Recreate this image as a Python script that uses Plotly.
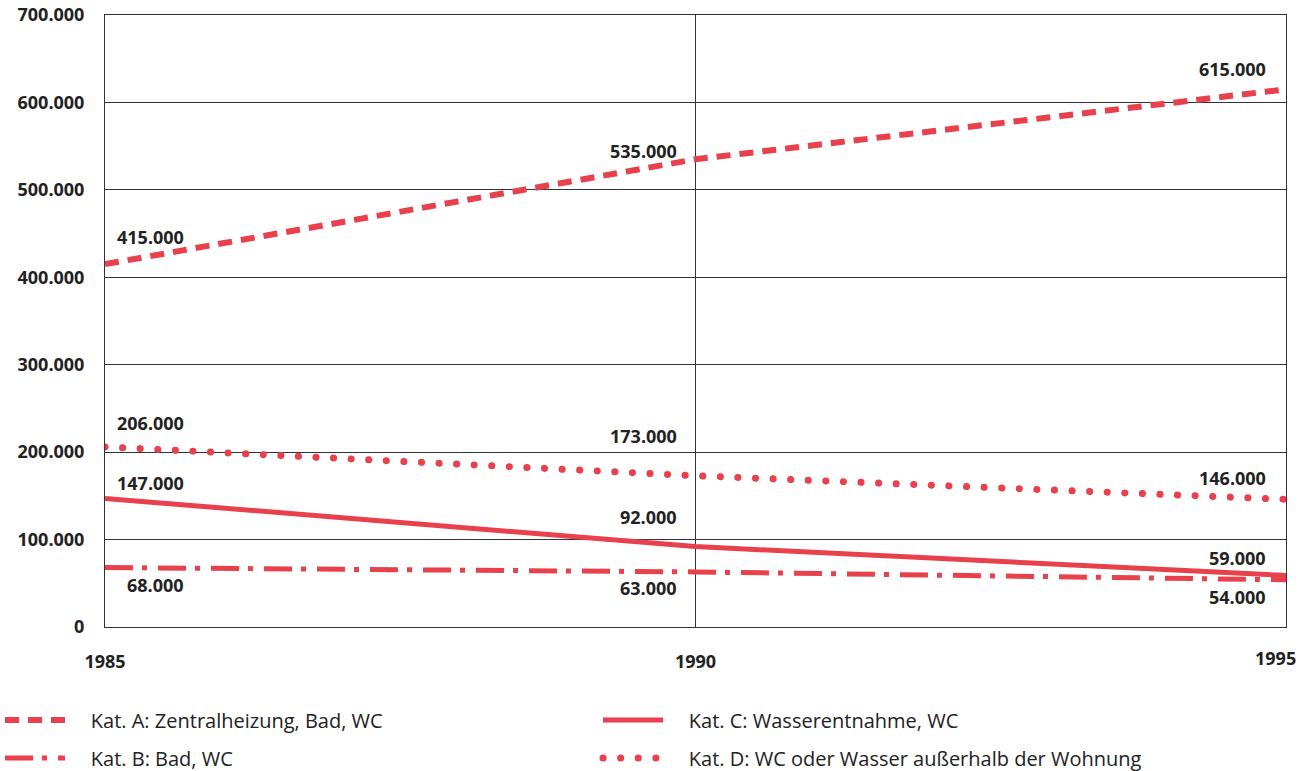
import plotly.graph_objects as go

years = [1985, 1990, 1995]
year_labels = ["1985", "1990", "1995"]
kat_a = [415000, 535000, 615000]
kat_b = [68000, 63000, 54000]
kat_c = [147000, 92000, 59000]
kat_d = [206000, 173000, 146000]

names = {
    "A": "Kat. A: Zentralheizung, Bad, WC",
    "B": "Kat. B: Bad, WC",
    "C": "Kat. C: Wasserentnahme, WC",
    "D": "Kat. D: WC oder Wasser außerhalb der Wohnung",
}

RED = "#E8414B"
INK = "#222222"
FONT = "Open Sans"
PAD = "\u00a0" * 4
TICKFONT = dict(family=FONT, size=18, color=INK, weight="bold")

fig = go.Figure()
fig.add_trace(go.Scatter(x=years, y=kat_a, mode="lines", name=PAD + names["A"],
                         line=dict(color=RED, width=6, dash="14px,9px"), legend="legend"))
fig.add_trace(go.Scatter(x=years, y=kat_c, mode="lines", name=PAD + names["C"],
                         line=dict(color=RED, width=5), legend="legend2"))
fig.add_trace(go.Scatter(x=years, y=kat_b, mode="lines", name=PAD + names["B"],
                         line=dict(color=RED, width=5, dash="28px,9px,5px,11px"), legend="legend3"))
fig.add_trace(go.Scatter(x=years, y=kat_d, mode="lines", name=PAD + names["D"],
                         line=dict(color=RED, width=7, dash="0.1px,17.5px"), legend="legend4"))

def fmt(v):
    return f"{v:,}".replace(",", ".")

# label placement: (series, index, xanchor, xshift, yshift)
placements = [
    (kat_a, 0, "left", 10, 27), (kat_a, 1, "right", -17, 8), (kat_a, 2, "right", -18, 20),
    (kat_d, 0, "left", 10, 24), (kat_d, 1, "right", -17, 40), (kat_d, 2, "right", -18, 21),
    (kat_c, 0, "left", 10, 15), (kat_c, 1, "right", -17, 30), (kat_c, 2, "right", -18, 17),
    (kat_b, 0, "left", 20, -17), (kat_b, 1, "right", -17, -16), (kat_b, 2, "right", -18, -17),
]
for series, i, xa, xs, ys in placements:
    fig.add_annotation(x=years[i], y=series[i], text=fmt(series[i]), showarrow=False,
                       xanchor=xa, yanchor="middle", xshift=xs, yshift=ys, font=TICKFONT)

# last year label placed right-aligned so it stays inside the page
fig.add_annotation(x=years[-1], y=0, yref="paper", text=year_labels[-1], showarrow=False,
                   xanchor="right", yanchor="middle", xshift=12, yshift=-31, font=TICKFONT)

axis_common = dict(showline=True, linecolor="#333333", linewidth=1, mirror=True,
                   showgrid=True, gridcolor="#333333", gridwidth=1, zeroline=False,
                   ticks="", tickfont=TICKFONT)

ticktext = year_labels[:-1] + [""]
fig.update_xaxes(range=[1985, 1995], tickvals=years, ticktext=ticktext,
                 ticklabelstandoff=18, ticklabeloverflow="allow", **axis_common)
fig.update_yaxes(range=[0, 700000], tickvals=list(range(0, 700001, 100000)),
                 tickformat=",d", ticklabelstandoff=16, **axis_common)

leg_common = dict(xref="container", yref="container", xanchor="left", yanchor="middle",
                  itemwidth=60, bgcolor="rgba(0,0,0,0)",
                  font=dict(family=FONT, size=20, color=INK))
fig.update_layout(
    width=1302, height=771,
    margin=dict(l=105, r=16, t=15, b=144, autoexpand=False),
    plot_bgcolor="white", paper_bgcolor="white",
    separators=",.",
    showlegend=True,
    legend=dict(x=0.0, y=1 - 720 / 771, **leg_common),
    legend2=dict(x=598 / 1302, y=1 - 720 / 771, **leg_common),
    legend3=dict(x=0.0, y=1 - 758 / 771, **leg_common),
    legend4=dict(x=598 / 1302, y=1 - 758 / 771, **leg_common),
)

post = """
document.querySelectorAll('path').forEach(function(p){
  var d = p.style.strokeDasharray || '';
  if (d.indexOf('0.1') === 0) { p.style.strokeLinecap = 'round'; }
});
"""
fig.write_html("out.html", post_script=post)
